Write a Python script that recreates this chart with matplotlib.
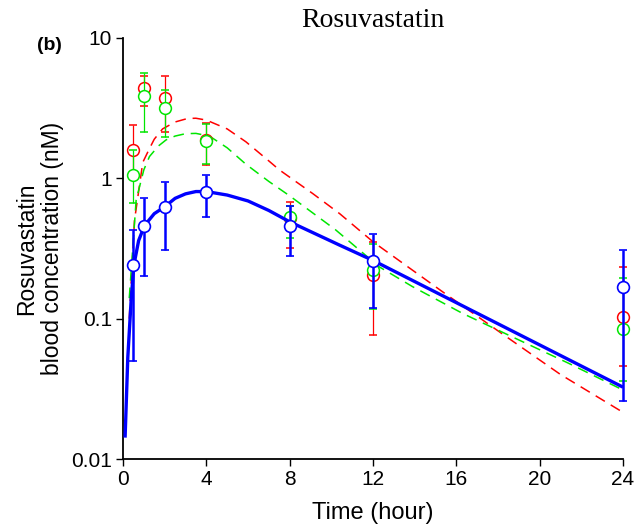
import numpy as np
import matplotlib.pyplot as plt

# observed time points (hour)
t_obs = [0.5, 1, 2, 4, 8, 12, 24]

blue_mean = [0.24, 0.46, 0.62, 0.80, 0.46, 0.257, 0.168]
blue_hi = [0.43, 0.72, 0.94, 1.05, 0.63, 0.40, 0.31]
blue_lo = [0.05, 0.20, 0.31, 0.53, 0.28, 0.119, 0.026]

red_mean = [1.59, 4.4, 3.73, 1.87, 0.52, 0.204, 0.103]
red_hi = [2.4, 5.4, 5.4, 2.48, 0.68, 0.353, 0.233]
red_lo = [1.05, 3.3, 2.15, 1.24, 0.32, 0.077, 0.046]

green_mean = [1.05, 3.85, 3.17, 1.85, 0.53, 0.222, 0.084]
green_hi = [1.6, 5.6, 4.25, 2.42, 0.63, 0.34, 0.195]
green_lo = [0.67, 2.14, 1.97, 1.26, 0.375, 0.117, 0.036]

# fitted curves
blue_t = [0.1, 0.23, 0.39, 0.52, 0.75, 1.03, 1.5, 2, 2.5, 3, 3.5, 4, 5, 6, 7, 8,
          10.4, 12, 16, 20, 24]
blue_c = [0.0142, 0.053, 0.135, 0.24, 0.36, 0.46, 0.56, 0.627, 0.72, 0.775, 0.805,
          0.805, 0.76, 0.69, 0.59, 0.49, 0.334, 0.26, 0.13, 0.065, 0.0325]

red_t = [0.3, 0.55, 0.95, 1.27, 1.5, 1.9, 2.5, 3.1, 3.5, 4, 5, 5.9, 7, 7.5, 9.1,
         10.4, 12, 15.35, 18.2, 21, 24]
red_c = [0.1, 0.5, 1.3, 1.63, 1.9, 2.25, 2.52, 2.67, 2.68, 2.6, 2.25, 1.82, 1.33,
         1.15, 0.78, 0.56, 0.353, 0.155, 0.078, 0.040, 0.0215]

green_t = [0.3, 0.63, 1.0, 1.27, 1.7, 2.07, 2.5, 3.0, 3.5, 4.15, 5, 5.9, 7, 8,
           10.2, 12.3, 13.9, 16.3, 18.7, 21.4, 24]
green_c = [0.14, 0.7, 1.15, 1.43, 1.7, 1.88, 2.0, 2.08, 2.09, 2.0, 1.65, 1.26, 0.95,
           0.75, 0.43, 0.234, 0.169, 0.109, 0.074, 0.048, 0.031]

RED = '#ff0000'
GREEN = '#00e600'
BLUE = '#0000ff'

fig = plt.figure(figsize=(6.39, 5.29), dpi=100)
ax = fig.add_axes([0.1925, 0.1323, 0.7825, 0.7959])

ax.plot(red_t, red_c, color=RED, lw=1.1, dashes=(7, 4.5), zorder=2)
ax.plot(green_t, green_c, color=GREEN, lw=1.1, dashes=(7, 4.5), zorder=2)
ax.plot(blue_t, blue_c, color=BLUE, lw=2.4, zorder=4, solid_capstyle='butt')


def draw_obs(mean, lo, hi, color, lw, mew, z):
    mean = np.array(mean)
    yerr = [mean - np.array(lo), np.array(hi) - mean]
    cont = ax.errorbar(t_obs, mean, yerr=yerr, fmt='o', color=color, ecolor=color,
                       elinewidth=lw, capsize=3, capthick=lw, ms=8.5, mfc='white',
                       mec=color, mew=mew, zorder=z)
    for art in cont.get_children():
        art.set_clip_on(False)


draw_obs(red_mean, red_lo, red_hi, RED, 0.9, 1.1, 3)
draw_obs(green_mean, green_lo, green_hi, GREEN, 0.9, 1.1, 3.5)
draw_obs(blue_mean, blue_lo, blue_hi, BLUE, 1.8, 1.2, 5)

ax.set_yscale('log')
ax.set_ylim(0.01, 10)
ax.set_xlim(0, 24)
ax.set_yticks([0.01, 0.1, 1, 10])
ax.set_yticklabels(['0.01', '0.1', '1', '10'])
ax.yaxis.set_minor_locator(plt.NullLocator())
ax.set_xticks([0, 4, 8, 12, 16, 20, 24])

for s in ['top', 'right']:
    ax.spines[s].set_visible(False)
for s in ['left', 'bottom']:
    ax.spines[s].set_linewidth(1.3)
ax.tick_params(direction='out', length=5, width=1, labelsize=15, pad=3)
for lab in ax.get_xticklabels() + ax.get_yticklabels():
    lab.set_fontfamily('Liberation Sans')

ax.set_xlabel('Time (hour)', fontsize=17, family='Liberation Sans', labelpad=9)
ax.set_ylabel('Rosuvastatin\nblood concentration (nM)', fontsize=16.5,
              family='Liberation Sans', linespacing=1.15)
ax.yaxis.set_label_coords(-0.118, 0.5)
ax.set_title('Rosuvastatin', fontsize=20, family='Liberation Serif', pad=8)
fig.text(0.058, 0.905, '(b)', fontsize=14, fontweight='bold',
         family='Liberation Sans')

fig.savefig('out.png', dpi=100)
